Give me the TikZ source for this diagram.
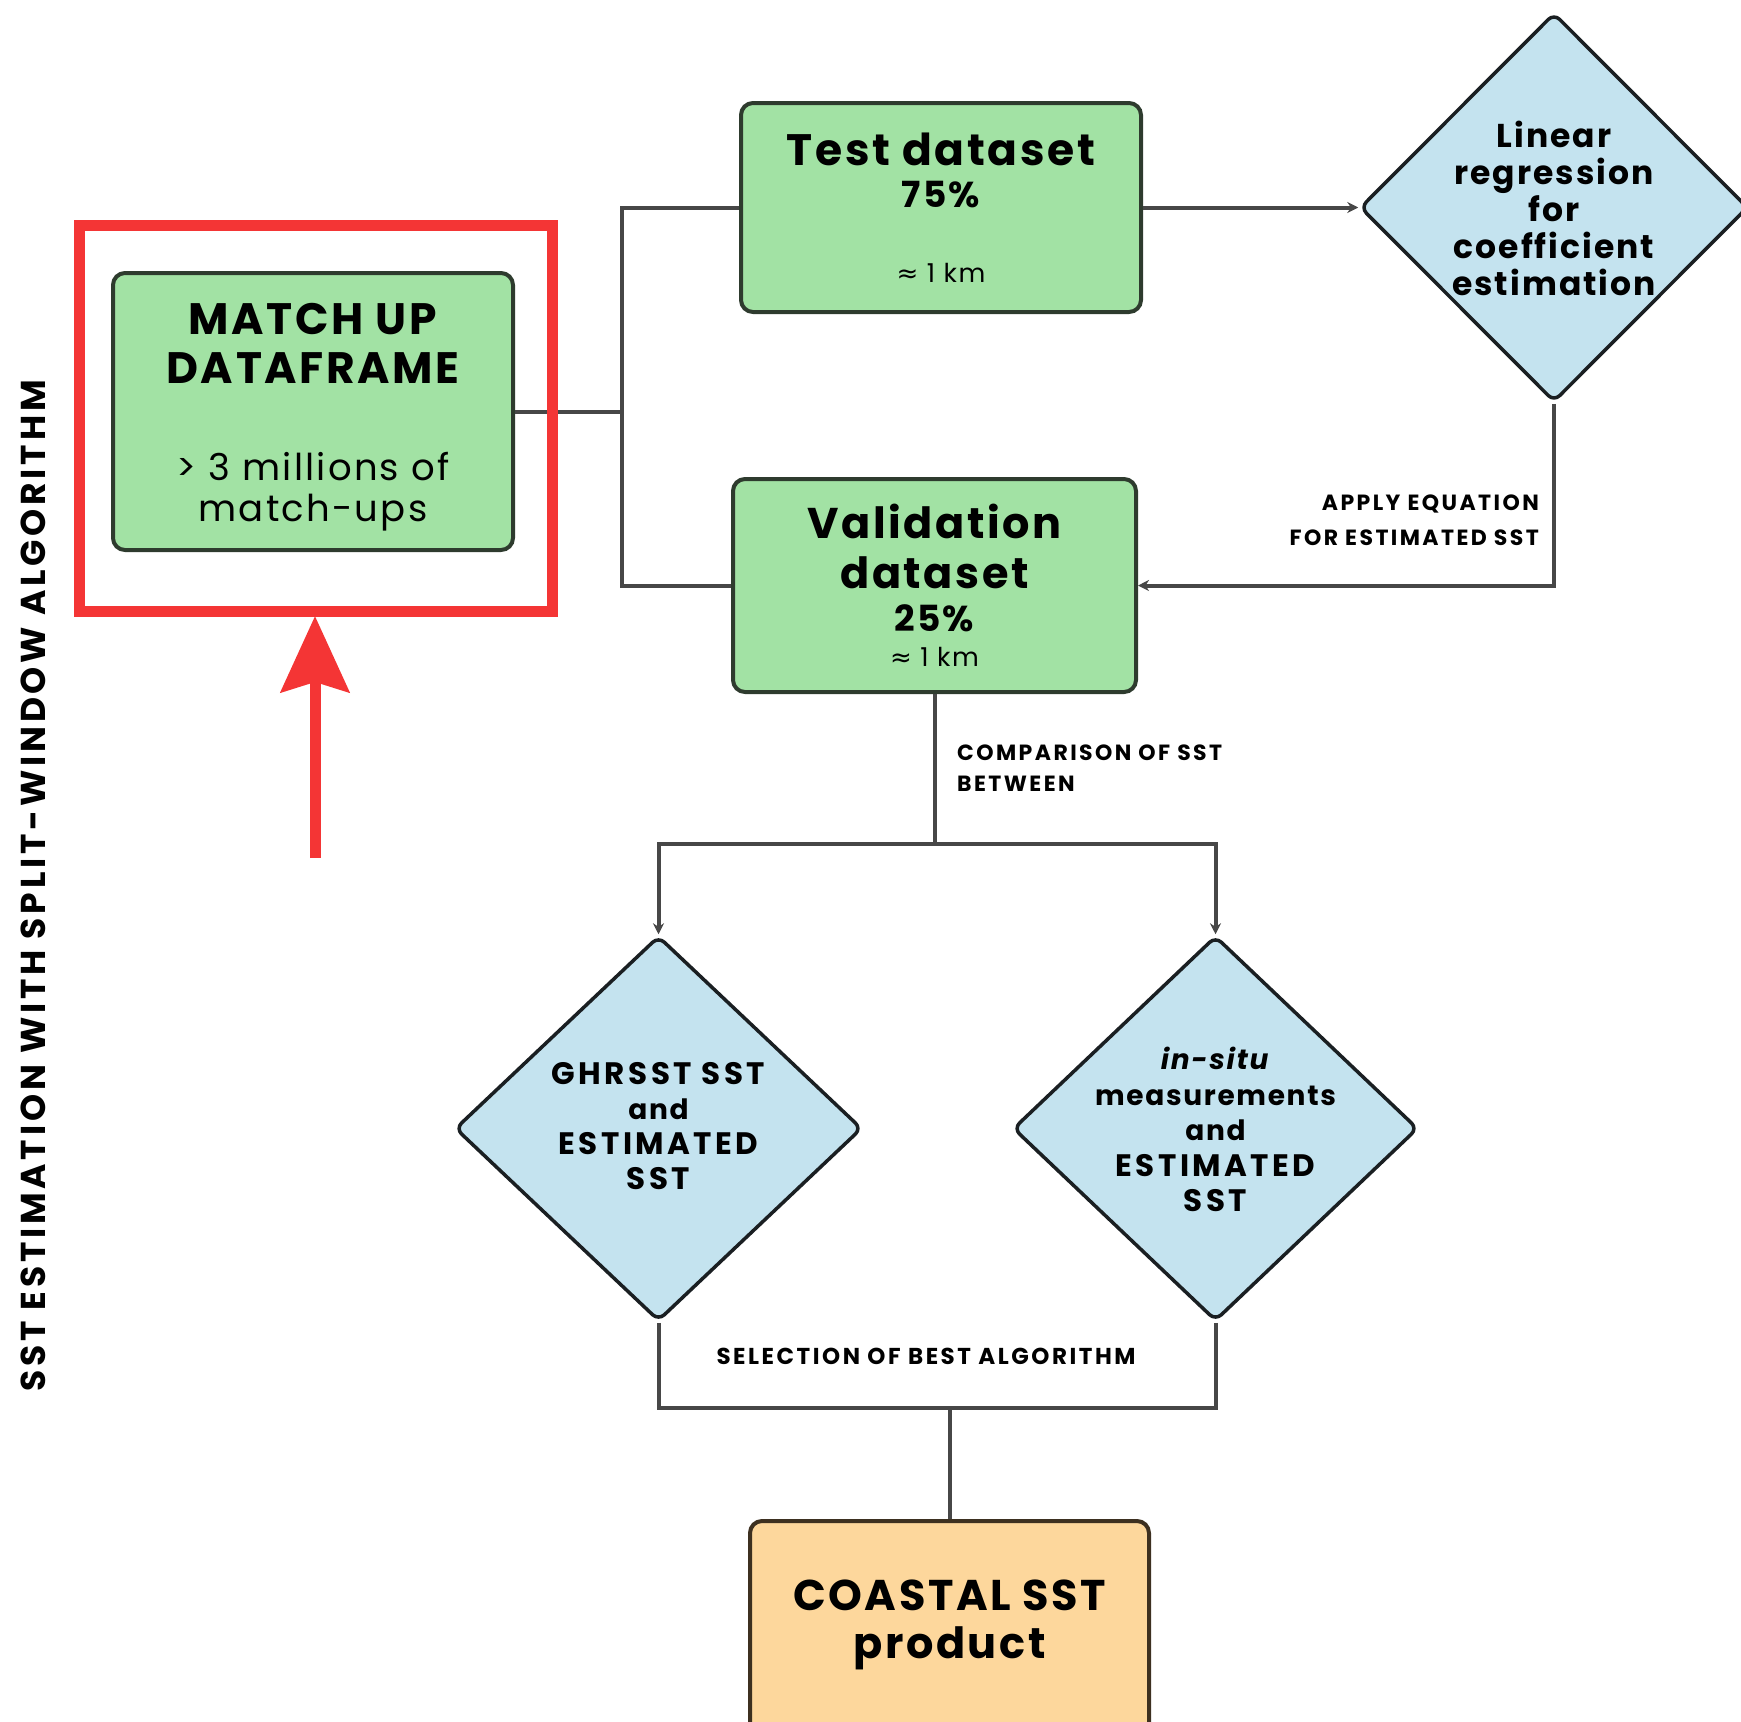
\documentclass[tikz,border=0pt]{standalone}
\usepackage{fontspec}
\setmainfont{Poppins}[LetterSpace=6]
\newfontfamily\labfont{Poppins}[LetterSpace=11]
\newfontfamily\dvs{DejaVu Sans}
\usetikzlibrary{shapes.geometric,arrows.meta}
\definecolor{gfill}{HTML}{A2E2A4}
\definecolor{gdraw}{HTML}{2E3B2E}
\definecolor{bfill}{HTML}{C4E3EF}
\definecolor{bdraw}{HTML}{1A1F22}
\definecolor{ofill}{HTML}{FDD79C}
\definecolor{odraw}{HTML}{3D3020}
\definecolor{redc}{HTML}{F43535}
\definecolor{conn}{HTML}{474747}
\tikzset{
  gbox/.style={draw=gdraw, fill=gfill, line width=4pt, rounded corners=12pt, inner sep=0pt},
  obox/.style={draw=odraw, fill=ofill, line width=4pt, rounded corners=12pt, inner sep=0pt},
  dia/.style={diamond, draw=bdraw, fill=bfill, line width=3.5pt, rounded corners=8pt, inner sep=0pt},
  link/.style={draw=conn, line width=4pt},
  arr/.style={link, -{Stealth[length=11pt,width=11pt]}},
  txt/.style={align=center, inner sep=0pt, text=black},
}
\newcommand{\fs}[2]{\fontsize{#1}{#2}\selectfont}
\newcommand{\capl}{\labfont\fontsize{31}{35}\selectfont}
\begin{document}
\begin{tikzpicture}[x=1pt,y=-1pt]
\useasboundingbox (0,0) rectangle (1741,1722);
% boxes
\node[gbox, minimum width=400pt, minimum height=277pt] (matchbox) at (313,411.5) {};
\node[gbox, minimum width=400pt, minimum height=209pt] (testbox) at (941,207.5) {};
\node[gbox, minimum width=403pt, minimum height=213pt] (valbox) at (934.5,585.5) {};
\node[obox, minimum width=399pt, minimum height=240pt] (coastbox) at (949.5,1641) {};
\node[dia, minimum width=388pt, minimum height=389pt] (linreg) at (1554,207.5) {};
\node[dia, minimum width=407pt, minimum height=385pt] (ghr) at (658.5,1128.5) {};
\node[dia, minimum width=405pt, minimum height=385pt] (insitu) at (1215.5,1128.5) {};
% texts
\node[txt, font=\fs{44}{49}\bfseries] (t1) at (313,343) {MATCH UP\\DATAFRAME};
\node[txt, font=\fs{37}{41}] (t2) at (313,492) {> 3 millions of\\match-ups};
\node[txt, font=\fs{44}{48}\bfseries] (t3) at (941,149) {Test dataset};
\node[txt, font=\fs{36}{40}\bfseries] (t4) at (941,195) {75\%};
\node[txt, font=\fs{26}{30}] (t5) at (941,273) {{\dvs ≈} 1 km};
\node[txt, font=\fs{43}{50}\bfseries] (t6) at (934.5,546) {Validation\\dataset};
\node[txt, font=\fs{36}{40}\bfseries] (t7) at (934.5,618) {25\%};
\node[txt, font=\fs{26}{30}] (t8) at (934.5,657) {{\dvs ≈} 1 km};
\node[txt, font=\fs{33}{37}\bfseries] (t9) at (1554,208) {Linear\\regression\\for\\coefficient\\estimation};
\node[txt, font=\fs{28}{35}\bfseries] (t10) at (658.5,1126.5) {{\capl GHRSST SST}\\and\\{\capl ESTIMATED}\\{\capl SST}};
\node[txt, font=\fs{28}{35.5}\bfseries] (t11) at (1215.5,1129.5) {\textit{in-situ}\\measurements\\and\\{\capl ESTIMATED}\\{\capl SST}};
\node[txt, font=\fs{43}{48}\bfseries] (t12) at (949.5,1625) {COASTAL SST\\product};
% connectors
\coordinate (j1) at (622,411.5);
\coordinate (j2) at (934.5,844);
\coordinate (j3) at (949.5,1408);
\draw[link] (matchbox.east) -- (j1);
\draw[link] (testbox.west) -| (j1) |- (valbox.west);
\draw[arr] (testbox.east) -- (linreg.west);
\draw[arr] (linreg.south) |- (valbox.east);
\draw[link] (valbox.south) -- (j2);
\draw[arr] (j2) -| (ghr.north);
\draw[arr] (j2) -| (insitu.north);
\draw[link] (ghr.south) |- (j3);
\draw[link] (insitu.south) |- (j3);
\draw[link] (j3) -- (coastbox.north);
% labels
\node[txt, anchor=east, align=right, font=\labfont\fs{22}{35}\bfseries] (l1) at (1539,520) {APPLY EQUATION\\FOR ESTIMATED SST};
\node[txt, anchor=west, align=left, font=\labfont\fs{22}{31}\bfseries] (l2) at (957,768) {COMPARISON OF SST\\BETWEEN};
\node[txt, font=\labfont\fs{23}{24}\bfseries] (l3) at (926,1356) {SELECTION OF BEST ALGORITHM};
\node[txt, rotate=90, font=\labfont\fs{34.5}{36}\bfseries] (title) at (33,886) {SST ESTIMATION WITH SPLIT-WINDOW ALGORITHM};
% highlight
\node[draw=redc, line width=11pt, minimum width=473pt, minimum height=386pt, inner sep=0pt] (redframe) at (316,418.5) {};
\coordinate (redtail) at (315,858);
\coordinate (redtip) at (315,616);
\draw[draw=redc, line width=11pt, -{Stealth[length=76pt,width=68pt,inset=10pt,fill=redc]}] (redtail) -- (redtip);
\end{tikzpicture}
\end{document}
